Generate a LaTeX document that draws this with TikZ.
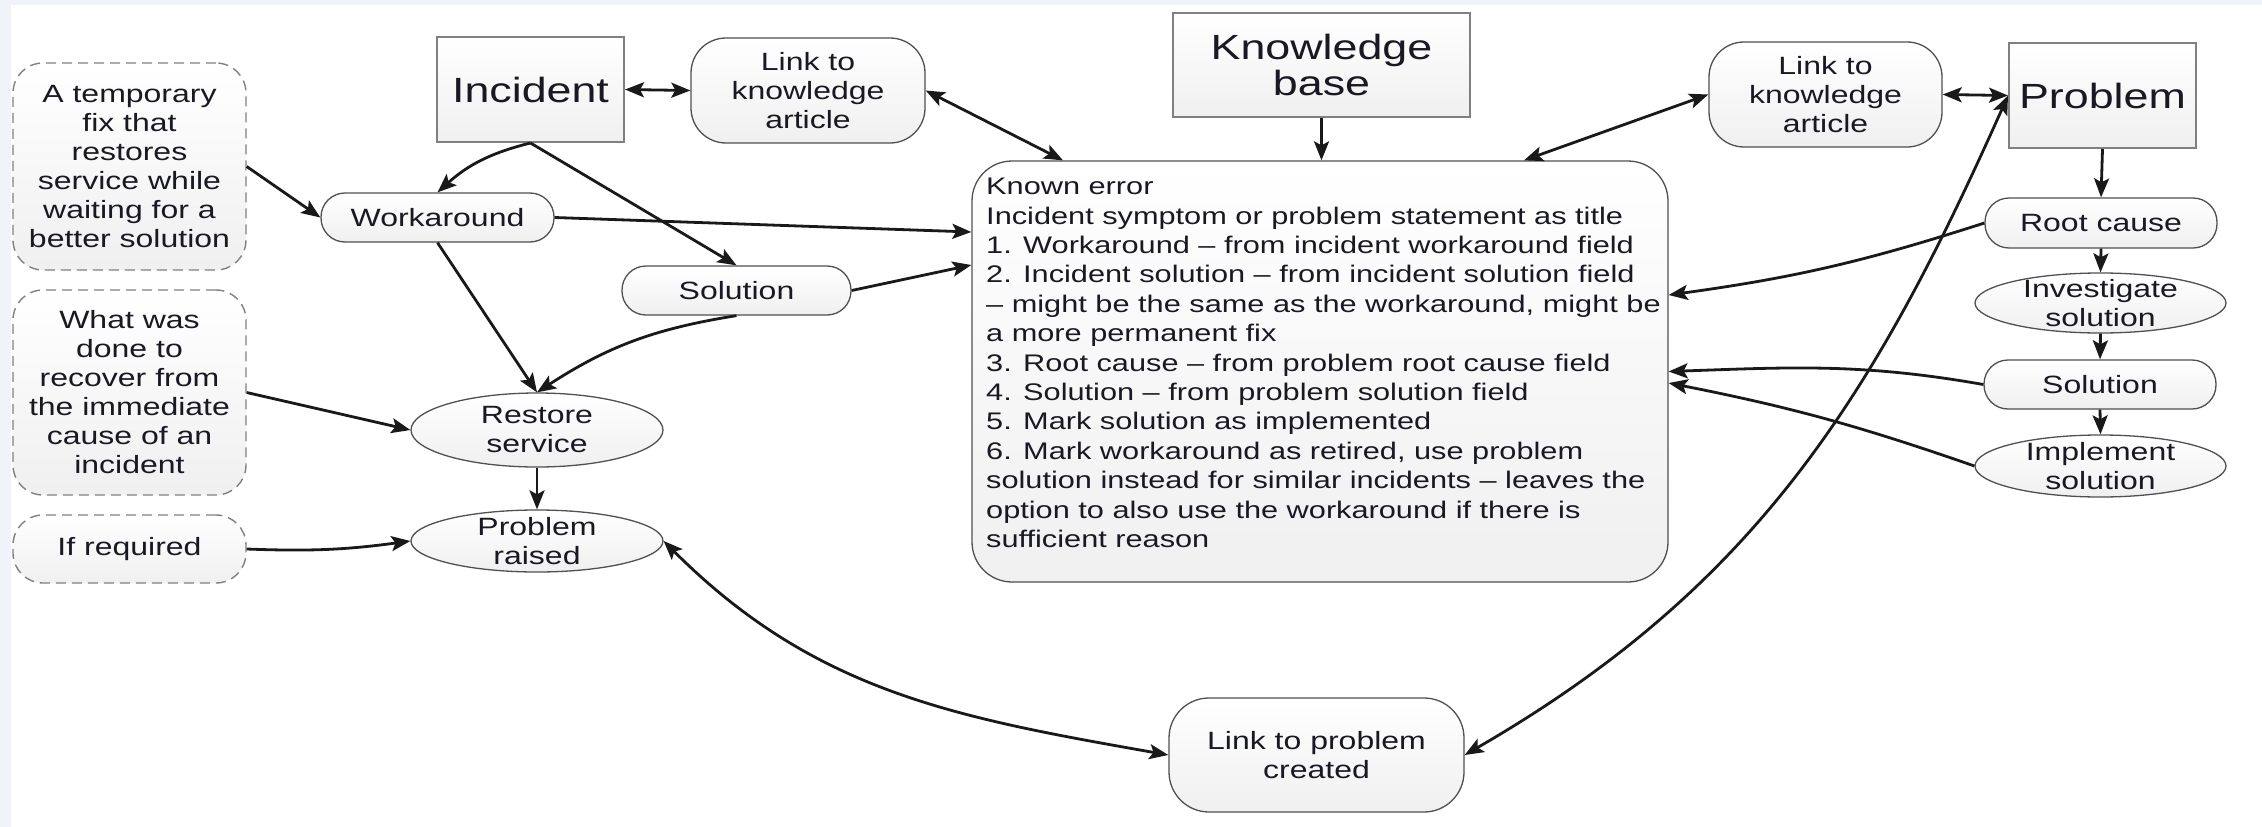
\documentclass[tikz,border=0pt]{standalone}
\usepackage{fontspec}
\setmainfont{Liberation Sans}[FakeStretch=1.28]
\usetikzlibrary{shapes.geometric,arrows.meta,calc}
\definecolor{bgblue}{RGB}{240,244,250}
\definecolor{txt}{RGB}{25,25,35}
\definecolor{edge}{RGB}{80,80,80}
\begin{document}
\begin{tikzpicture}[x=1pt,y=1pt,
  base/.style={draw=edge, line width=1.3pt, top color=white, bottom color=gray!12, text=txt, align=center, inner sep=0pt, font=\fontsize{25}{29}\selectfont},
  sqbox/.style={base, draw=gray, line width=2pt, font=\fontsize{35}{36}\selectfont},
  rbox/.style={base, rounded corners=35pt},
  dbox/.style={base, draw=gray, line width=1.4pt, dash pattern=on 10pt off 6pt, rounded corners=30pt, minimum width=233pt},
  pill/.style={base, rounded corners=24pt, minimum height=49pt},
  ell/.style={base, ellipse, inner xsep=0pt, inner ysep=-6pt, minimum width=252pt},
  arr/.style={line width=2.8pt, draw=black!90, -{Stealth[length=19pt,width=15pt,inset=4pt]}},
  darr/.style={line width=2.8pt, draw=black!90, {Stealth[length=19pt,width=15pt,inset=4pt]}-{Stealth[length=19pt,width=15pt,inset=4pt]}},
]
\useasboundingbox (0,0) rectangle (2262,-827);
\fill[bgblue] (0,0) rectangle (2262,-827);
\fill[white] (11,-5) rectangle (2262,-827);

\node[dbox, minimum height=207pt] (tmp) at (129.5,-166.5) {A temporary\\fix that\\restores\\service while\\waiting for a\\better solution};
\node[dbox, minimum height=205pt] (what) at (129.5,-392.5) {What was\\done to\\recover from\\the immediate\\cause of an\\incident};
\node[dbox, minimum height=68pt] (ifreq) at (129.5,-549) {If required};

\node[sqbox, minimum width=187pt, minimum height=105pt] (incident) at (530.5,-89.5) {Incident};
\node[rbox, minimum width=234pt, minimum height=105pt] (link1) at (808,-90.5) {Link to\\knowledge\\article};
\node[sqbox, minimum width=297pt, minimum height=104pt] (kb) at (1321.5,-65) {Knowledge\\base};
\node[rbox, minimum width=233pt, minimum height=105pt] (link2) at (1825.5,-94.5) {Link to\\knowledge\\article};
\node[sqbox, minimum width=187pt, minimum height=105pt] (problem) at (2102.5,-95.5) {Problem};

\node[pill, minimum width=233pt] (work) at (437.5,-217.5) {Workaround};
\node[pill, minimum width=229pt] (sol1) at (736.5,-290.5) {Solution};
\node[ell, minimum height=74pt] (restore) at (537,-430) {Restore\\service};
\node[ell, minimum height=62pt] (raised) at (537,-541) {Problem\\raised};

\node[base, rounded corners=40pt, minimum width=696pt, minimum height=421pt] (known) at (1320,-371.5) {};
\node[anchor=north west, align=left, inner sep=0pt, text=txt, font=\fontsize{24}{29.4}\selectfont] (knowntext) at (986,-178) {Known error\\
Incident symptom or problem statement as title\\
1. Workaround – from incident workaround field\\
2. Incident solution – from incident solution field\\
– might be the same as the workaround, might be\\
a more permanent fix\\
3. Root cause – from problem root cause field\\
4. Solution – from problem solution field\\
5. Mark solution as implemented\\
6. Mark workaround as retired, use problem\\
solution instead for similar incidents – leaves the\\
option to also use the workaround if there is\\
sufficient reason};

\node[pill, minimum width=232pt, minimum height=50pt] (root) at (2101,-223) {Root cause};
\node[ell, minimum width=251pt, minimum height=60pt] (invest) at (2100.5,-303) {Investigate\\solution};
\node[pill, minimum width=232pt] (sol2) at (2100,-384.5) {Solution};
\node[ell, minimum width=251pt, minimum height=62pt] (impl) at (2100.5,-466) {Implement\\solution};

\node[rbox, rounded corners=40pt, minimum width=295pt, minimum height=114pt] (linkprob) at (1316.5,-755) {Link to problem\\created};

% connectors
\draw[arr] (tmp.east) -- (work.west);
\draw[arr] (incident.south) to[bend right=14] (work.north);
\draw[arr] (incident.south) -- (sol1.north);
\draw[arr] (work.east) -- ([yshift=139.5pt]known.west);
\draw[arr] (sol1.east) -- ([yshift=106.5pt]known.west);
\draw[arr] (work.south) -- (restore.north);
\draw[arr] (sol1.south) to[bend right=12] (restore.north);
\draw[arr] (what.east) -- (restore.west);
\draw[arr] (ifreq.east) to[bend right=5] (raised.west);
\draw[arr] (restore.south) -- (raised.north);
\draw[darr] (incident.east) -- (link1.west);
\draw[darr] (link1.east) -- ([xshift=-257pt]known.north);
\draw[arr] (kb.south) -- (kb.south |- known.north);
\draw[darr] ([xshift=204pt]known.north) -- (link2.west);
\draw[darr] (link2.east) -- (problem.west);
\draw[arr] (problem.south) -- (root.north);
\draw[arr] (root.west) to[bend left=5] ([yshift=76.5pt]known.east);
\draw[arr] (root.south) -- (invest.north);
\draw[arr] (invest.south) -- (sol2.north);
\draw[arr] (sol2.south) -- (impl.north);
\draw[arr] (sol2.west) to[out=170,in=2] (known.east);
\draw[arr] (impl.west) to[bend right=4] ([yshift=-11.5pt]known.east);
\draw[darr] (raised.east) to[out=-45,in=170] (linkprob.west);
\draw[darr] (linkprob.east) to[out=30,in=-114] (problem.west);
\end{tikzpicture}
\end{document}
